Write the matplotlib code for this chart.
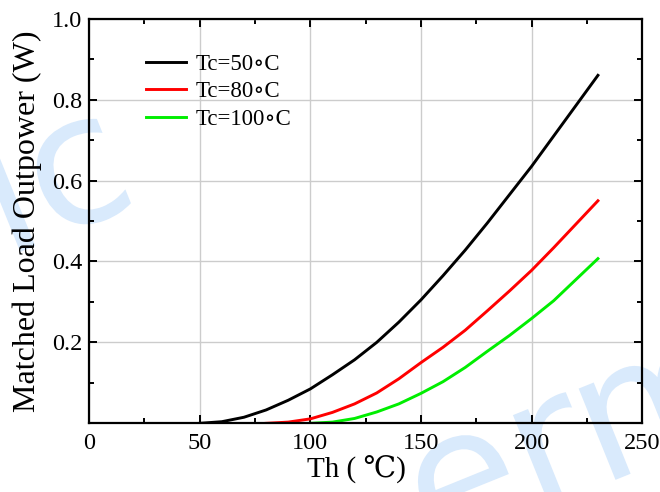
import matplotlib
matplotlib.use('Agg')
import matplotlib.pyplot as plt
from matplotlib.ticker import MultipleLocator
from matplotlib.textpath import TextPath
from matplotlib.patches import PathPatch
from matplotlib.font_manager import FontProperties
from matplotlib.transforms import Affine2D

plt.rcParams['font.family'] = ['Liberation Serif', 'DejaVu Serif', 'DejaVu Sans']

# values
th_50 = [50, 60, 70, 80, 90, 100, 110, 120, 130, 140, 150, 160, 170, 180, 190, 200, 210, 220, 230]
p_50 = [0.0, 0.004, 0.015, 0.033, 0.057, 0.085, 0.12, 0.157, 0.2, 0.25, 0.305, 0.365, 0.428, 0.495, 0.565, 0.635, 0.71, 0.785, 0.86]

th_80 = [80, 90, 100, 110, 120, 130, 140, 150, 160, 170, 180, 190, 200, 210, 220, 230]
p_80 = [0.0, 0.003, 0.011, 0.027, 0.048, 0.075, 0.11, 0.15, 0.188, 0.23, 0.278, 0.327, 0.378, 0.434, 0.492, 0.55]

th_100 = [100, 110, 120, 130, 140, 150, 160, 170, 180, 190, 200, 210, 220, 230]
p_100 = [0.0, 0.003, 0.012, 0.028, 0.048, 0.074, 0.103, 0.138, 0.178, 0.217, 0.259, 0.303, 0.355, 0.407]

labels = ['Tc=50\u2218C', 'Tc=80\u2218C', 'Tc=100\u2218C']
colors = ['#000000', '#ff0000', '#00ee00']

fig = plt.figure(figsize=(6.6, 4.92), dpi=100)

# faint rotated watermark behind the chart (display pixels)
wm_font = FontProperties(family='DejaVu Sans')
for word, x0, y0 in [('mic', -158, 168), ('erm', 432, -62)]:
    tp = TextPath((0, 0), word, size=180, prop=wm_font)
    tr = Affine2D().rotate_deg(22).translate(x0, y0)
    fig.add_artist(PathPatch(tp, transform=tr, facecolor='#d9eafc', edgecolor='none', zorder=-1))

ax = fig.add_axes([0.135, 0.1396, 0.838, 0.8224])
ax.patch.set_alpha(0)

ax.plot(th_50, p_50, color=colors[0], lw=2.1, label=labels[0])
ax.plot(th_80, p_80, color=colors[1], lw=2.1, label=labels[1])
ax.plot(th_100, p_100, color=colors[2], lw=2.1, label=labels[2])

ax.set_xlim(0, 250)
ax.set_ylim(0, 1.0)
ax.xaxis.set_major_locator(MultipleLocator(50))
ax.xaxis.set_minor_locator(MultipleLocator(25))
ax.set_yticks([0.2, 0.4, 0.6, 0.8, 1.0])
ax.set_yticklabels(['0.2', '0.4', '0.6', '0.8', '1.0'])
ax.yaxis.set_minor_locator(MultipleLocator(0.1))
ax.tick_params(which='both', direction='in', top=True, right=True, labelsize=17.5, width=1.4)
ax.tick_params(which='major', length=6)
ax.tick_params(which='minor', length=3.5)
ax.tick_params(axis='x', pad=7)
ax.tick_params(axis='y', pad=5)
for s in ax.spines.values():
    s.set_linewidth(1.6)

ax.grid(True, which='major', color='#cccccc', lw=1.0)
ax.set_axisbelow(True)

ax.set_xlabel('Th ( \u2103)', fontsize=21)
ax.xaxis.set_label_coords(0.483, -0.08)
ax.set_ylabel('Matched Load Outpower (W)', fontsize=23, labelpad=7)

ax.legend(loc='upper left', bbox_to_anchor=(0.065, 0.965), frameon=False, fontsize=16.5,
          handlelength=1.75, handletextpad=0.45, labelspacing=0.3)

fig.savefig('out.png', dpi=100)
